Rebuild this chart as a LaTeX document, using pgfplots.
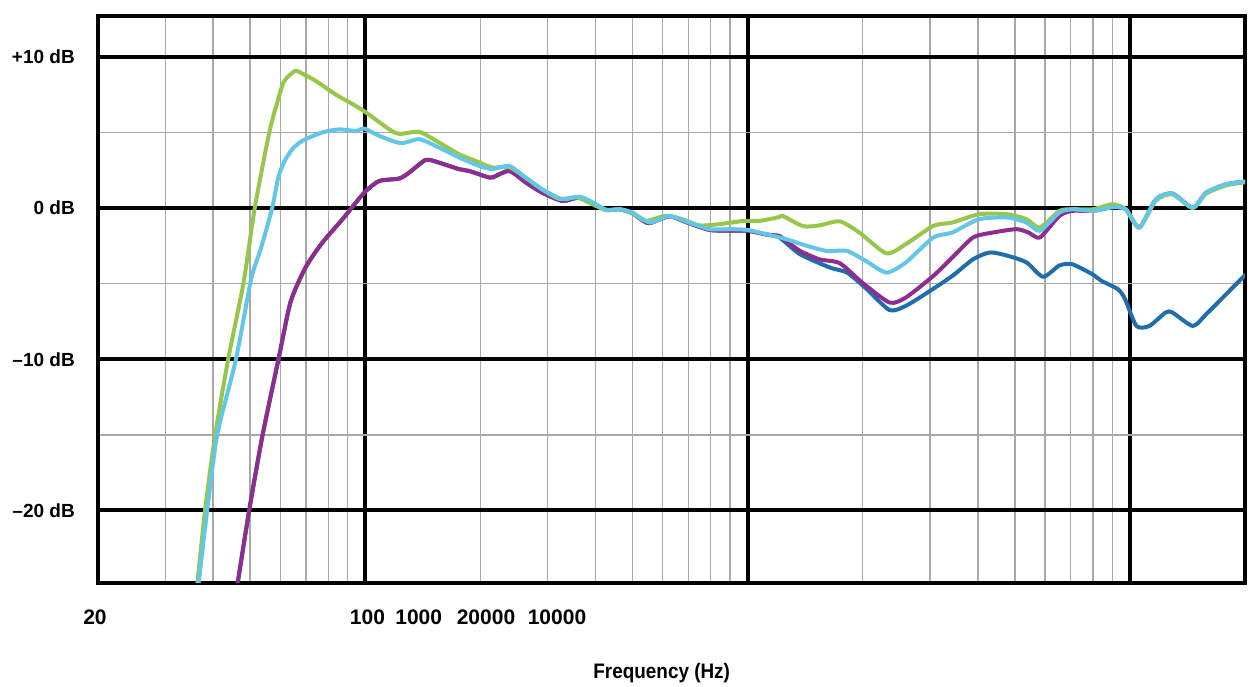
\documentclass[border=0pt]{standalone}
\usepackage{fontspec}
\setmainfont{Liberation Sans}
\newfontfamily\condfont{Liberation Sans}[FakeStretch=0.9]
\usepackage{pgfplots}
\pgfplotsset{compat=1.18}
\definecolor{cgreen}{HTML}{97C74A}
\definecolor{ccyan}{HTML}{62C6E6}
\definecolor{cpurple}{HTML}{8E2C8F}
\definecolor{cblue}{HTML}{1F6DAA}
\definecolor{cgrid}{HTML}{A8A8A8}
\begin{document}
\begin{tikzpicture}
\begin{axis}[
  at={(0,0)}, anchor=south west, scale only axis,
  width=1147bp, height=567bp,
  xmode=log, xmin=20, xmax=20000, ymin=-24.8, ymax=12.7,
  axis line style={line width=4bp, black},
  xtick={100,1000,10000}, xticklabels={,,},
  minor xtick={30,40,50,60,70,80,90,200,300,400,500,600,700,800,900,2000,3000,4000,5000,6000,7000,8000,9000},
  ytick={-20,-10,0,10}, minor ytick={-15,-5,5},
  yticklabels={{–20 dB},{–10 dB},{0 dB},{+10 dB}},
  yticklabel style={font=\fontsize{19bp}{21bp}\selectfont\bfseries, anchor=east, inner sep=0pt, xshift=-23bp},
  major tick length=0pt, minor tick length=0pt,
  grid=both,
  major grid style={black, line width=4bp},
  minor grid style={cgrid, line width=1.4bp},
  every axis plot/.append style={line width=4bp, line join=round, line cap=round, smooth, tension=0.4},
]
% dark blue
\addplot[cblue] coordinates {
(45.6,-26)(49.7,-20)(53.9,-15)(59.3,-10)(63.8,-6.2)(69.9,-3.9)(77.3,-2.28)(87.2,-0.74)(94.5,0.36)(100.4,1.13)(108.8,1.79)(122.7,1.95)(130.4,2.35)(144,3.18)(156,3.0)(176,2.57)(187,2.45)(207,2.08)(215,2.02)(238,2.45)(263,1.69)(290,1.02)(328,0.47)(363,0.7)(393,0.3)(427,-0.12)(463,-0.08)(500,-0.35)(550,-1.0)(624,-0.55)(702,-1.0)(797,-1.45)(910,-1.5)(1000,-1.5)(1120,-1.75)(1211,-1.95)(1372,-3.06)(1643,-3.94)(1820,-4.27)(2037,-5.3)(2350,-6.75)(2593,-6.47)(2955,-5.59)(3432,-4.49)(3888,-3.39)(4300,-2.94)(4775,-3.15)(5365,-3.6)(5927,-4.55)(6538,-3.8)(7070,-3.72)(8000,-4.4)(8400,-4.8)(9300,-5.37)(9700,-6.0)(10400,-7.8)(11240,-7.8)(12400,-6.91)(12920,-6.91)(14600,-7.8)(15830,-7.02)(17850,-5.7)(20000,-4.44)
};
% purple
\addplot[cpurple] coordinates {
(45.6,-26)(49.7,-20)(53.9,-15)(59.3,-10)(63.8,-6.2)(69.9,-3.9)(77.3,-2.28)(87.2,-0.74)(94.5,0.36)(100.4,1.13)(108.8,1.79)(122.7,1.95)(130.4,2.35)(144,3.18)(156,3.0)(176,2.57)(187,2.45)(207,2.08)(215,2.02)(238,2.45)(263,1.69)(290,1.02)(328,0.47)(363,0.7)(393,0.3)(427,-0.12)(463,-0.08)(500,-0.35)(550,-1.0)(624,-0.55)(702,-1.0)(797,-1.45)(910,-1.5)(1000,-1.5)(1120,-1.75)(1211,-1.84)(1262,-2.18)(1372,-2.84)(1540,-3.39)(1742,-3.65)(1995,-4.93)(2350,-6.25)(2593,-5.92)(3060,-4.49)(3432,-3.27)(3888,-1.95)(4382,-1.62)(5045,-1.4)(5430,-1.62)(5814,-1.95)(6538,-0.52)(7070,-0.19)(8000,-0.19)(9000,0.05)(9750,-0.08)(10580,-1.29)(11690,0.58)(12920,0.96)(14600,0.03)(15830,1.02)(17850,1.57)(20000,1.75)
};
% green
\addplot[cgreen] coordinates {
(36.0,-26)(38.1,-20)(40.5,-15)(43.8,-10)(48.0,-5)(51.4,0)(56.1,5)(59.2,7.2)(61.4,8.4)(65.6,9.07)(69.5,8.8)(74.3,8.4)(83.8,7.5)(90.8,7.0)(99.4,6.4)(115.6,5.2)(122.7,4.9)(138.5,5.03)(156,4.33)(176,3.56)(195,3.1)(215,2.68)(238,2.7)(263,2.0)(290,1.24)(322,0.6)(357,0.71)(393,0.25)(427,-0.15)(463,-0.08)(500,-0.35)(542,-0.85)(609,-0.52)(675,-0.74)(750,-1.15)(842,-1.07)(979,-0.85)(1073,-0.85)(1211,-0.6)(1235,-0.52)(1397,-1.2)(1540,-1.15)(1742,-0.88)(1960,-1.62)(2307,-3.0)(2593,-2.39)(3060,-1.18)(3432,-0.96)(4026,-0.41)(4775,-0.41)(5365,-0.74)(5814,-1.29)(6538,-0.19)(7070,-0.08)(8000,-0.08)(9000,0.25)(9750,-0.08)(10580,-1.29)(11690,0.5)(12920,0.9)(14600,0.0)(15830,0.95)(17850,1.5)(20000,1.7)
};
% light blue
\addplot[ccyan] coordinates {
(36.2,-26)(38.6,-20)(41.0,-15)(45.9,-10)(50.3,-4.7)(53.3,-2.7)(57.1,0)(59.2,2.0)(61.5,3.1)(64.5,3.9)(68.4,4.44)(77.2,5.0)(85.5,5.2)(94.5,5.1)(99.4,5.26)(108.8,4.77)(124,4.29)(138.5,4.55)(156,4.0)(176,3.34)(199,2.78)(215,2.57)(238,2.78)(263,2.0)(290,1.24)(328,0.58)(363,0.76)(393,0.38)(427,-0.12)(463,-0.08)(500,-0.3)(555,-0.96)(624,-0.52)(702,-0.96)(797,-1.4)(910,-1.4)(1000,-1.45)(1120,-1.73)(1262,-2.06)(1428,-2.5)(1613,-2.84)(1820,-2.84)(2037,-3.5)(2307,-4.27)(2593,-3.6)(3060,-1.95)(3432,-1.62)(4026,-0.74)(4775,-0.63)(5365,-0.96)(5814,-1.51)(6538,-0.3)(7070,-0.08)(8000,-0.19)(9000,0.05)(9750,-0.08)(10580,-1.29)(11690,0.58)(12920,0.96)(14600,0.03)(15830,1.02)(17850,1.57)(20000,1.75)
};
\end{axis}
\begin{scope}[every node/.style={font=\fontsize{21bp}{23bp}\selectfont\bfseries, inner sep=0pt}]
\node at (-3bp,-34bp) {20};
\node at (269.5bp,-34bp) {100};
\node at (320.7bp,-34bp) {1000};
\node at (388bp,-34bp) {20000};
\node at (459bp,-34bp) {10000};
\end{scope}
\node[font=\fontsize{21bp}{23bp}\selectfont\condfont\bfseries, inner sep=0pt] at (563.7bp,-90bp) {Frequency (Hz)};
\pgfresetboundingbox
\path (-98bp,-104bp) rectangle (1153bp,583bp);
\end{tikzpicture}
\end{document}
